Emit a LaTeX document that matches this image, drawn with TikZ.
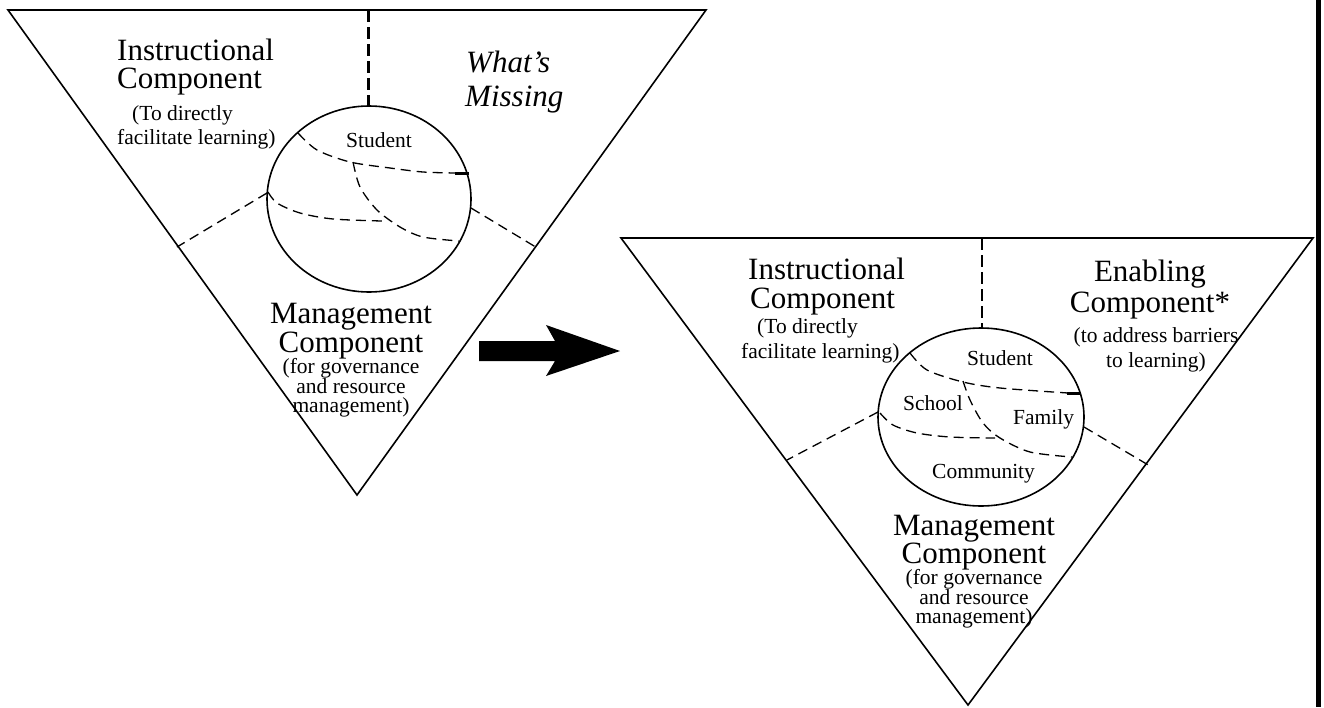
\documentclass[tikz,border=0pt]{standalone}
\usepackage{fontspec}
\setmainfont{Liberation Serif}
\begin{document}
\begin{tikzpicture}[x=1pt,y=-1pt,
  tri/.style={line width=1.6pt, line join=miter},
  ell/.style={line width=1.6pt},
  dsh/.style={line width=1.3pt, dash pattern=on 10pt off 6pt},
  vdsh/.style={line width=2.2pt, dash pattern=on 12pt off 5pt},
  big/.style={font=\fontsize{31}{31}\selectfont, inner sep=0pt},
  bigit/.style={font=\fontsize{31}{31}\selectfont\itshape, inner sep=0pt},
  small/.style={font=\fontsize{21.5}{21.5}\selectfont, inner sep=0pt},
  bw/.style={anchor=base west},
  bc/.style={anchor=base}]
\useasboundingbox (0,0) rectangle (1324,707);

% ---------- left triangle ----------
\coordinate (LA) at (8,10);
\coordinate (LB) at (706,10);
\coordinate (LC) at (357,495);
\draw[tri] (LA) -- (LB) -- (LC) -- cycle;
\draw[ell] (369,199) ellipse [x radius=102pt, y radius=93pt];
\coordinate (LT) at (368.5,10);
\coordinate (LTc) at (368.5,106);
\draw[vdsh] (LT) -- (LTc);
\coordinate (LL1) at (267,193);
\coordinate (LL2) at (177,247);
\draw[dsh] (LL1) -- (LL2);
\coordinate (LR1) at (471,208);
\coordinate (LR2) at (539,249);
\draw[dsh] (LR1) -- (LR2);
\draw[dsh] plot[smooth] coordinates {(298,133) (317,150) (350,162) (390,168) (423,172) (456,173)};
\draw[line width=3pt] (455,173) -- (469,173);
\draw[dsh] plot[smooth] coordinates {(353,162) (360,187) (377,210) (400,227) (423,237) (459,241)};
\draw[dsh] plot[smooth] coordinates {(268,192) (277,203) (300,213) (333,219) (382,221)};

\node[big,bw] (li1) at (117,60) {Instructional};
\node[big,bw] (li2) at (117,88) {Component};
\node[small,bw] (li3) at (132,120) {(To directly};
\node[small,bw] (li4) at (117,144) {facilitate learning)};
\node[bigit,bw] (lw1) at (466,72) {What’s};
\node[bigit,bw] (lw2) at (465,106) {Missing};
\node[small,bw] (lst) at (346,147) {Student};
\node[big,bc] (lm1) at (351,323) {Management};
\node[big,bc] (lm2) at (351,352) {Component};
\node[small,bc] (lm3) at (351,373) {(for governance};
\node[small,bc] (lm4) at (351,393) {and resource};
\node[small,bc] (lm5) at (351,412) {management)};

% ---------- arrow ----------
\fill (479,341) -- (555,341) -- (546,325) -- (620,351) -- (546,376) -- (555,361) -- (479,361) -- cycle;

% ---------- right triangle ----------
\coordinate (RA) at (621,238);
\coordinate (RB) at (1313,238);
\coordinate (RC) at (968,705);
\draw[tri] (RA) -- (RB) -- (RC) -- cycle;
\draw[ell] (981,417) ellipse [x radius=103pt, y radius=89pt];
\coordinate (RT) at (982,238);
\coordinate (RTc) at (982,328);
\draw[vdsh] (RT) -- (RTc);
\coordinate (RL1) at (878,412);
\coordinate (RL2) at (787,460);
\draw[dsh] (RL1) -- (RL2);
\coordinate (RR1) at (1084,427);
\coordinate (RR2) at (1150,466);
\draw[dsh] (RR1) -- (RR2);
\draw[dsh] plot[smooth] coordinates {(910,353) (927,370) (963,382) (1000,388) (1068,393)};
\draw[line width=3pt] (1067,393) -- (1081,393);
\draw[dsh] plot[smooth] coordinates {(963,381) (970,400) (983,423) (1000,438) (1030,452) (1072,457)};
\draw[dsh] plot[smooth] coordinates {(880,413) (893,425) (917,433) (950,437) (995,438)};

\node[big,bw] (ri1) at (748,279) {Instructional};
\node[big,bw] (ri2) at (750,308) {Component};
\node[small,bw] (ri3) at (757,333) {(To directly};
\node[small,bw] (ri4) at (741,358) {facilitate learning)};
\node[big,bc] (re1) at (1150,281) {Enabling};
\node[big,bc] (re2) at (1150,312) {Component*};
\node[small,bc] (re3) at (1156,342) {(to address barriers};
\node[small,bc] (re4) at (1156,367) {to learning)};
\node[small,bw] (rst) at (967,365) {Student};
\node[small,bw] (rsc) at (903,410) {School};
\node[small,bw] (rfa) at (1013,424) {Family};
\node[small,bw] (rco) at (932,478) {Community};
\node[big,bc] (rm1) at (974,535) {Management};
\node[big,bc] (rm2) at (974,563) {Component};
\node[small,bc] (rm3) at (974,584) {(for governance};
\node[small,bc] (rm4) at (974,604) {and resource};
\node[small,bc] (rm5) at (974,623) {management)};

% ---------- right edge bar ----------
\fill (1316,0) rectangle (1321,707);
\end{tikzpicture}
\end{document}
